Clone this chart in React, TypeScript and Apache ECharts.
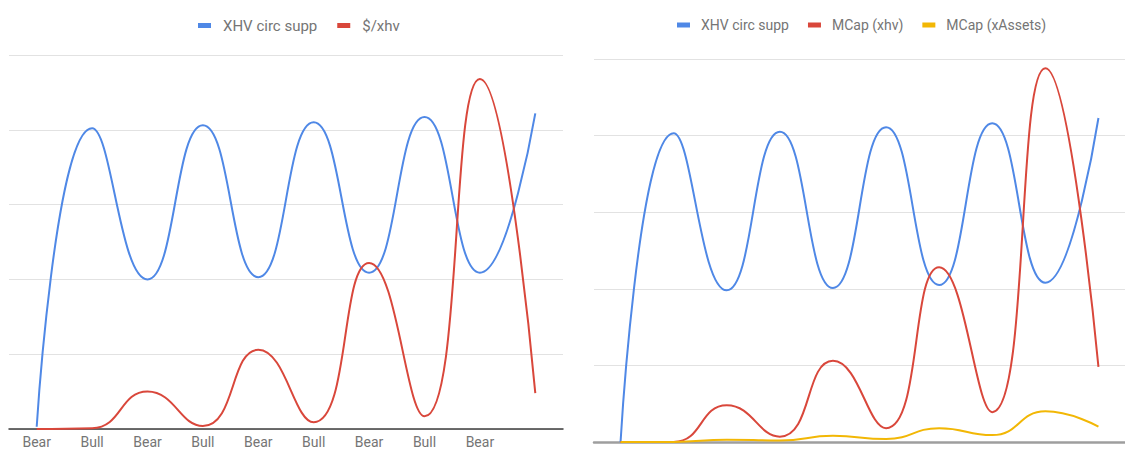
import React, { useEffect, useRef } from "react";
import * as echarts from "echarts";

const categories = ["Bear", "Bull", "Bear", "Bull", "Bear", "Bull", "Bear", "Bull", "Bear", ""];

// Left chart
const circSuppLeft = [0.03, 4.02, 2.0, 4.06, 2.03, 4.1, 2.09, 4.17, 2.09, 4.22];
const priceXhv = [0.0, 0.01, 0.5, 0.04, 1.06, 0.09, 2.22, 0.17, 4.68, 0.48];

// Right chart
const circSuppRight = [0.0, 4.03, 1.98, 4.05, 2.01, 4.11, 2.05, 4.16, 2.08, 4.23];
const mcapXhv = [0.0, 0.0, 0.48, 0.07, 1.06, 0.18, 2.28, 0.39, 4.88, 0.98];
const mcapXAssets = [0.0, 0.0, 0.03, 0.02, 0.08, 0.04, 0.18, 0.09, 0.4, 0.2];

const BLUE = "#4f88e6";
const RED = "#d9473b";
const YELLOW = "#f2b705";
const FONT = "Roboto, Arial, sans-serif";

export default function App() {
  const ref = useRef<HTMLDivElement>(null);
  useEffect(() => {
    if (!ref.current) return;
    const chart = echarts.init(ref.current, undefined, { renderer: "svg" });
    const yAxisBase = {
      type: "value",
      min: 0,
      max: 5,
      interval: 1,
      axisLabel: { show: false },
      axisLine: { show: false },
      axisTick: { show: false },
      splitLine: { lineStyle: { color: "#e2e2e2", width: 1 } },
    };
    const lineBase = {
      type: "line",
      smooth: 0.5,
      showSymbol: false,
      symbol: "none",
      lineStyle: { width: 2 },
    };
    chart.setOption({
      animation: false,
      backgroundColor: "#ffffff",
      legend: [
        {
          left: 193,
          top: 13,
          icon: "rect",
          itemWidth: 13,
          itemHeight: 5,
          itemGap: 20,
          textStyle: { color: "#757575", fontSize: 15, fontFamily: FONT, padding: [0, 0, 0, 7] },
          data: ["XHV circ supp", "$/xhv"],
        },
        {
          left: 672,
          top: 13,
          icon: "rect",
          itemWidth: 13,
          itemHeight: 5,
          itemGap: 19,
          textStyle: { color: "#757575", fontSize: 14, fontFamily: FONT, padding: [0, 0, 0, 6] },
          data: ["XHV circ supp", "MCap (xhv)", "MCap (xAssets)"],
        },
      ],
      grid: [
        { left: 9, top: 55, width: 554, height: 374, containLabel: false },
        { left: 594, top: 59, width: 538, height: 383, containLabel: false },
      ],
      xAxis: [
        {
          type: "category",
          gridIndex: 0,
          data: categories,
          boundaryGap: true,
          axisTick: { show: false },
          axisLine: { lineStyle: { color: "#3c3c3c", width: 1.5 } },
          axisLabel: { color: "#757575", fontSize: 14, fontFamily: FONT, margin: 6, interval: 0 },
          splitLine: { show: false },
        },
        {
          type: "category",
          gridIndex: 1,
          data: categories,
          boundaryGap: true,
          axisTick: { show: false },
          axisLine: { lineStyle: { color: "#9e9e9e", width: 2.5 } },
          axisLabel: { show: false },
          splitLine: { show: false },
        },
      ],
      yAxis: [
        { ...yAxisBase, gridIndex: 0 },
        { ...yAxisBase, gridIndex: 1 },
      ],
      series: [
        { ...lineBase, name: "XHV circ supp", xAxisIndex: 0, yAxisIndex: 0, data: circSuppLeft, itemStyle: { color: BLUE }, lineStyle: { width: 2, color: BLUE } },
        { ...lineBase, name: "$/xhv", xAxisIndex: 0, yAxisIndex: 0, data: priceXhv, itemStyle: { color: RED }, lineStyle: { width: 2, color: RED } },
        { ...lineBase, name: "XHV circ supp", xAxisIndex: 1, yAxisIndex: 1, data: circSuppRight, itemStyle: { color: BLUE }, lineStyle: { width: 2, color: BLUE } },
        { ...lineBase, name: "MCap (xhv)", xAxisIndex: 1, yAxisIndex: 1, data: mcapXhv, itemStyle: { color: RED }, lineStyle: { width: 2, color: RED } },
        { ...lineBase, name: "MCap (xAssets)", xAxisIndex: 1, yAxisIndex: 1, data: mcapXAssets, itemStyle: { color: YELLOW }, lineStyle: { width: 2, color: YELLOW } },
      ],
    });
    return () => chart.dispose();
  }, []);
  return (
    <div
      ref={ref}
      style={{ position: "fixed", left: 0, top: 0, width: 1125, height: 449, background: "#fff" }}
    />
  );
}
